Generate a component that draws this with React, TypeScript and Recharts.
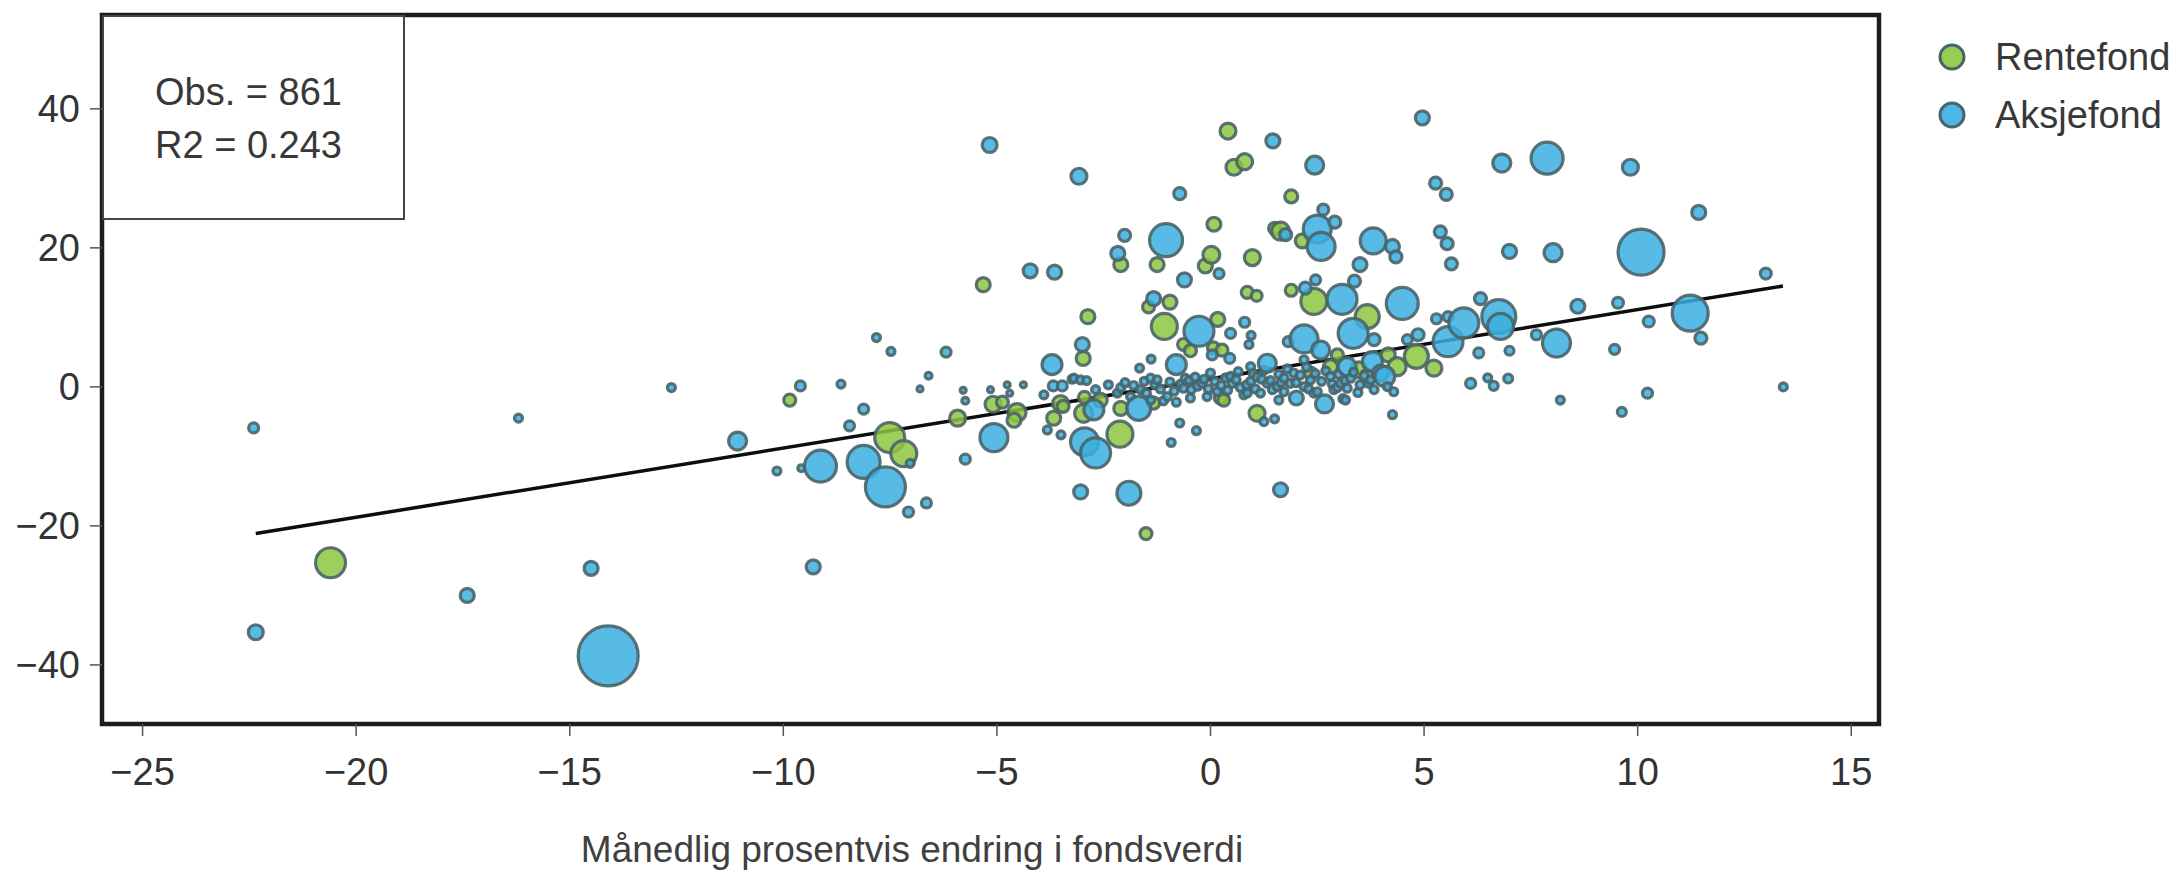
import {
  ScatterChart,
  Scatter,
  XAxis,
  YAxis,
  ZAxis,
  ReferenceArea,
  ReferenceLine,
} from "recharts";

const FONT = '"Liberation Sans", Arial, sans-serif';

const xTicks = [-25, -20, -15, -10, -5, 0, 5, 10, 15];
const yTicks = [-40, -20, 0, 20, 40];
const xDomain: [number, number] = [-25.95, 15.65];
const yDomain: [number, number] = [-48.5, 53.5];

// [monthly % change, % flow, fund size]
const rentefond: [number, number, number][] = [
  [-20.6, -25.3, 225], [-9.85, -1.9, 36], [-7.51, -7.3, 225], [-7.18, -9.6, 169],
  [-5.92, -4.5, 64], [-5.09, -2.5, 64], [-5.32, 14.7, 49], [-4.87, -2.2, 36],
  [-4.53, -3.7, 81], [-4.6, -4.8, 49], [-3.67, -4.5, 49], [-3.51, -2.4, 64],
  [-3.45, -2.8, 36], [-2.97, -3.8, 81], [-2.98, 4.1, 49], [-2.87, 10.1, 49],
  [-2.95, -1.5, 36], [-2.58, -1.9, 49], [-2.12, -6.8, 169], [-2.1, -3.1, 49],
  [-2.1, 17.6, 49], [-1.51, -21.1, 36], [-1.33, -2.35, 36], [-1.45, 11.5, 36],
  [-1.25, 17.6, 49], [-1.08, 8.7, 169], [-0.95, 12.2, 49], [-0.63, 6.1, 36],
  [-0.47, 5.2, 36], [-0.12, 17.4, 49], [0.02, 19.0, 72], [0.08, 23.4, 49],
  [0.17, 9.7, 49], [0.07, 5.6, 36], [0.27, 5.3, 36], [0.23, -1.6, 36],
  [0.31, -1.9, 36], [0.41, 36.8, 64], [0.55, 31.6, 64], [0.8, 32.4, 64],
  [0.86, 13.6, 36], [0.98, 18.6, 64], [1.08, 13.1, 30], [1.09, -3.8, 64],
  [1.5, 22.8, 36], [1.64, 22.4, 81], [1.89, 27.4, 42], [1.89, 13.9, 36],
  [2.15, 21.0, 49], [2.34, 2.0, 36], [2.42, 12.3, 169], [2.81, 2.9, 49],
  [2.97, 4.6, 36], [3.47, 2.45, 64], [3.67, 10.1, 144], [3.67, 1.5, 49],
  [4.16, 4.6, 49], [4.37, 2.9, 81], [4.82, 4.4, 144], [5.23, 2.7, 64],
];

const aksjefond: [number, number, number][] = [
  [-22.4, -5.9, 25], [-22.35, -35.3, 56], [-17.4, -30.0, 49], [-16.2, -4.5, 16],
  [-14.5, -26.1, 49], [-14.1, -38.7, 900], [-12.62, -0.1, 16], [-11.07, -7.8, 81],
  [-10.15, -12.1, 16], [-9.6, 0.14, 25], [-9.58, -11.7, 12], [-9.3, -25.9, 49],
  [-9.13, -11.4, 256], [-8.65, 0.4, 16], [-8.45, -5.6, 25], [-8.12, -3.2, 25],
  [-8.12, -10.8, 272], [-7.82, 7.1, 16], [-7.61, -14.4, 400], [-7.48, 5.1, 16],
  [-7.07, -18.0, 25], [-7.03, -11.0, 16], [-6.8, -0.3, 9], [-6.65, -16.7, 25],
  [-6.6, 1.6, 12], [-6.19, 5.0, 25], [-5.79, -0.5, 9], [-5.74, -2.0, 12],
  [-5.74, -10.4, 25], [-5.17, 34.8, 56], [-5.15, -0.4, 9], [-5.07, -7.3, 196],
  [-4.76, 0.3, 9], [-4.7, -0.9, 9], [-4.38, 0.3, 9], [-4.22, 16.7, 49],
  [-3.9, -1.15, 16], [-3.82, -6.2, 16], [-3.71, 3.2, 100], [-3.68, 0.14, 25],
  [-3.65, 16.5, 49], [-3.5, -6.9, 16], [-3.47, 0.14, 25], [-3.24, 1.1, 16],
  [-3.2, 1.25, 16], [-3.08, 30.3, 64], [-3.04, 1.0, 16], [-3.04, -15.1, 49],
  [-3.0, 6.1, 49], [-2.9, 0.9, 16], [-2.95, -7.9, 196], [-2.69, -9.5, 225],
  [-2.73, -3.3, 100], [-2.69, -0.4, 16], [-2.39, 0.3, 16], [-2.18, -0.9, 16],
  [-2.17, 19.2, 49], [-2.1, -0.1, 16], [-2.01, 21.8, 36], [-2.0, 0.6, 16],
  [-1.91, -15.3, 144], [-1.87, -1.4, 16], [-1.8, 0.2, 16], [-1.68, -3.1, 144],
  [-1.66, 2.7, 16], [-1.64, -0.4, 16], [-1.55, 0.8, 16], [-1.5, -0.9, 16],
  [-1.4, 1.25, 16], [-1.39, 4.0, 16], [-1.4, -1.9, 16], [-1.33, 12.7, 49],
  [-1.3, 0.3, 16], [-1.25, 1.0, 16], [-1.17, -0.3, 16], [-1.1, -2.0, 16],
  [-1.04, 21.1, 272], [-1.01, -1.4, 16], [-0.95, 0.7, 16], [-0.92, -8.0, 16],
  [-0.85, -0.6, 16], [-0.8, 3.2, 100], [-0.8, -2.2, 16], [-0.72, 27.8, 36],
  [-0.72, -5.2, 16], [-0.7, 0.4, 16], [-0.63, -0.2, 16], [-0.61, 15.4, 49],
  [-0.59, 1.25, 16], [-0.5, 0.9, 16], [-0.47, -1.6, 16], [-0.45, -0.4, 16],
  [-0.36, 1.4, 16], [-0.33, -6.3, 16], [-0.3, 0.1, 16], [-0.27, 8.0, 225],
  [-0.2, 0.5, 16], [-0.15, 1.1, 16], [-0.08, -1.4, 16], [-0.05, -0.3, 16],
  [0.0, 2.0, 16], [0.04, 4.6, 25], [0.1, 0.8, 16], [0.16, -0.7, 16],
  [0.2, 16.3, 25], [0.25, 0.2, 16], [0.35, 1.3, 16], [0.4, -0.5, 16],
  [0.45, 4.1, 25], [0.47, 7.7, 25], [0.47, 1.5, 16], [0.51, 0.5, 16],
  [0.6, 1.0, 16], [0.65, 2.2, 16], [0.7, -0.1, 16], [0.78, -1.15, 16],
  [0.8, 9.3, 25], [0.85, 0.3, 16], [0.86, -0.9, 16], [0.9, 6.1, 16],
  [0.94, 2.9, 16], [0.94, 0.8, 16], [0.95, 7.4, 16], [1.0, 1.9, 16],
  [1.05, -0.3, 16], [1.09, 1.4, 16], [1.17, -0.9, 16], [1.2, 1.1, 16],
  [1.25, -5.0, 16], [1.25, 2.4, 16], [1.33, 3.4, 81], [1.33, 0.5, 16],
  [1.4, 0.9, 16], [1.45, -0.4, 16], [1.46, 35.4, 49], [1.5, -4.6, 16],
  [1.56, 0.05, 16], [1.6, 1.8, 16], [1.6, -1.9, 16], [1.64, -14.8, 49],
  [1.65, 0.6, 16], [1.72, 1.25, 16], [1.72, -0.7, 16], [1.76, 21.9, 36],
  [1.8, 2.6, 16], [1.82, 6.5, 25], [1.87, 0.5, 16], [1.95, 2.0, 16],
  [2.0, 0.6, 16], [2.01, -1.6, 49], [2.1, 1.7, 16], [2.19, 6.9, 196],
  [2.19, 3.9, 16], [2.19, 0.05, 16], [2.22, 14.2, 36], [2.25, 2.8, 16],
  [2.3, -0.3, 16], [2.34, 1.0, 16], [2.42, -0.9, 16], [2.44, 31.9, 81],
  [2.45, 1.9, 16], [2.46, 15.4, 25], [2.5, 22.7, 196], [2.5, -0.7, 16],
  [2.58, 5.3, 81], [2.59, 20.2, 196], [2.6, 0.8, 16], [2.64, 25.5, 30],
  [2.67, -2.45, 81], [2.7, 2.3, 16], [2.81, 1.5, 16], [2.85, 0.4, 16],
  [2.89, -0.4, 16], [2.91, 23.7, 36], [2.97, -0.1, 16], [3.0, 1.8, 16],
  [3.05, 0.5, 16], [3.08, 12.6, 225], [3.1, -1.7, 16], [3.15, 0.9, 16],
  [3.16, -1.9, 16], [3.2, 2.9, 81], [3.2, -0.2, 16], [3.28, 1.25, 16],
  [3.34, 7.7, 225], [3.35, 2.1, 16], [3.37, 15.2, 36], [3.45, -0.8, 16],
  [3.5, 17.6, 49], [3.5, 0.3, 16], [3.6, 1.6, 16], [3.7, 0.5, 16],
  [3.75, 1.0, 16], [3.79, 3.65, 100], [3.81, 21.0, 169], [3.83, 6.8, 36],
  [3.83, -0.4, 16], [3.98, 2.0, 64], [4.08, 1.5, 100], [4.14, 0.05, 16],
  [4.26, 20.2, 49], [4.26, -4.0, 16], [4.29, -0.7, 16], [4.34, 18.7, 36],
  [4.49, 12.0, 256], [4.61, 6.8, 25], [4.86, 7.5, 36], [4.96, 38.7, 49],
  [5.27, 29.3, 36], [5.29, 9.8, 25], [5.38, 22.3, 36], [5.52, 27.7, 36],
  [5.54, 20.6, 36], [5.56, 10.1, 25], [5.56, 6.5, 225], [5.64, 17.7, 36],
  [5.93, 9.2, 225], [6.09, 0.5, 25], [6.28, 4.9, 25], [6.32, 12.7, 36],
  [6.49, 1.3, 16], [6.63, 0.15, 20], [6.75, 10.1, 289], [6.79, 8.7, 169],
  [6.82, 32.2, 81], [6.97, 1.2, 20], [7.0, 19.5, 49], [7.0, 5.2, 20],
  [7.63, 7.5, 25], [7.88, 32.9, 256], [8.02, 19.3, 81], [8.1, 6.3, 196],
  [8.19, -1.9, 16], [8.6, 11.6, 49], [9.46, 5.4, 25], [9.54, 12.1, 30],
  [9.63, -3.6, 20], [9.83, 31.6, 64], [10.08, 19.4, 529], [10.23, -0.9, 25],
  [10.26, 9.4, 30], [11.23, 10.6, 324], [11.43, 25.1, 49], [11.48, 7.0, 36],
  [13.0, 16.3, 30], [13.41, 0.0, 16],
];

const trend = [
  { x: -22.35, y: -21.1 },
  { x: 13.4, y: 14.5 },
];

const stats = ["Obs. = 861", "R2 = 0.243"];
const series = [
  { name: "Rentefond", color: "#8DC63F" },
  { name: "Aksjefond", color: "#3AAFE0" },
];
const X_LABEL = "Månedlig prosentvis endring i fondsverdi";

const STROKE = "#4a6468";

const toRows = (pts: [number, number, number][]) =>
  pts.map(([x, y, z]) => ({ x, y, z }));

const fmt = (v: number) => (v < 0 ? `\u2212${Math.abs(v)}` : `${v}`);

const tickStyle = { fill: "#333", fontSize: 38, fontFamily: FONT };

export default function App() {
  return (
    <div
      style={{
        position: "absolute",
        left: 0,
        top: 0,
        width: 2182,
        height: 872,
        background: "#fff",
        fontFamily: FONT,
      }}
    >
      <ScatterChart
        width={2182}
        height={872}
        margin={{ top: 15, right: 303, left: 0, bottom: 0 }}
      >
        <XAxis
          type="number"
          dataKey="x"
          domain={xDomain}
          ticks={xTicks}
          allowDataOverflow
          tickFormatter={fmt}
          height={148}
          axisLine={false}
          tickSize={12}
          tickMargin={22}
          tickLine={{ stroke: "#555", strokeWidth: 1.5 }}
          tick={tickStyle}
        />
        <YAxis
          type="number"
          dataKey="y"
          domain={yDomain}
          ticks={yTicks}
          allowDataOverflow
          tickFormatter={fmt}
          width={102}
          axisLine={false}
          tickSize={12}
          tickMargin={10}
          tickLine={{ stroke: "#555", strokeWidth: 1.5 }}
          tick={tickStyle}
        />
        <ZAxis type="number" dataKey="z" domain={[0, 900]} range={[0, 2827]} />
        <Scatter
          name={series[0].name}
          data={toRows(rentefond)}
          fill={series[0].color}
          fillOpacity={0.85}
          stroke={STROKE}
          strokeWidth={3.2}
          strokeOpacity={0.9}
          isAnimationActive={false}
        />
        <Scatter
          name={series[1].name}
          data={toRows(aksjefond)}
          fill={series[1].color}
          fillOpacity={0.85}
          stroke={STROKE}
          strokeWidth={3.2}
          strokeOpacity={0.9}
          isAnimationActive={false}
        />
        <ReferenceLine
          segment={trend}
          stroke="#0d0d0d"
          strokeWidth={3.5}
          ifOverflow="visible"
        />
        <ReferenceArea
          x1={xDomain[0]}
          x2={xDomain[1]}
          y1={yDomain[0]}
          y2={yDomain[1]}
          fill="none"
          fillOpacity={0}
          stroke="#1c1c1c"
          strokeWidth={4.5}
          ifOverflow="visible"
        />
      </ScatterChart>

      {/* stats box */}
      <div
        style={{
          position: "absolute",
          left: 102,
          top: 15,
          width: 299,
          height: 201,
          border: "2px solid #444",
          background: "#fff",
          boxSizing: "content-box",
        }}
      >
        <div
          style={{
            position: "absolute",
            left: 51,
            top: 49,
            fontSize: 38,
            lineHeight: "53px",
            color: "#383838",
            whiteSpace: "nowrap",
          }}
        >
          {stats.map((s) => (
            <div key={s}>{s}</div>
          ))}
        </div>
      </div>

      {/* legend */}
      <svg
        width={262}
        height={140}
        style={{ position: "absolute", left: 1920, top: 20 }}
      >
        {series.map((s, i) => (
          <g key={s.name}>
            <circle
              cx={32}
              cy={37 + i * 58}
              r={12}
              fill={s.color}
              fillOpacity={0.9}
              stroke={STROKE}
              strokeWidth={3}
            />
            <text
              x={75}
              y={50 + i * 58}
              fontSize={38}
              fontFamily={FONT}
              fill="#383838"
            >
              {s.name}
            </text>
          </g>
        ))}
      </svg>

      {/* x axis title */}
      <div
        style={{
          position: "absolute",
          left: 912,
          top: 831,
          transform: "translateX(-50%)",
          fontSize: 37,
          lineHeight: "37px",
          color: "#404040",
          whiteSpace: "nowrap",
        }}
      >
        {X_LABEL}
      </div>
    </div>
  );
}
